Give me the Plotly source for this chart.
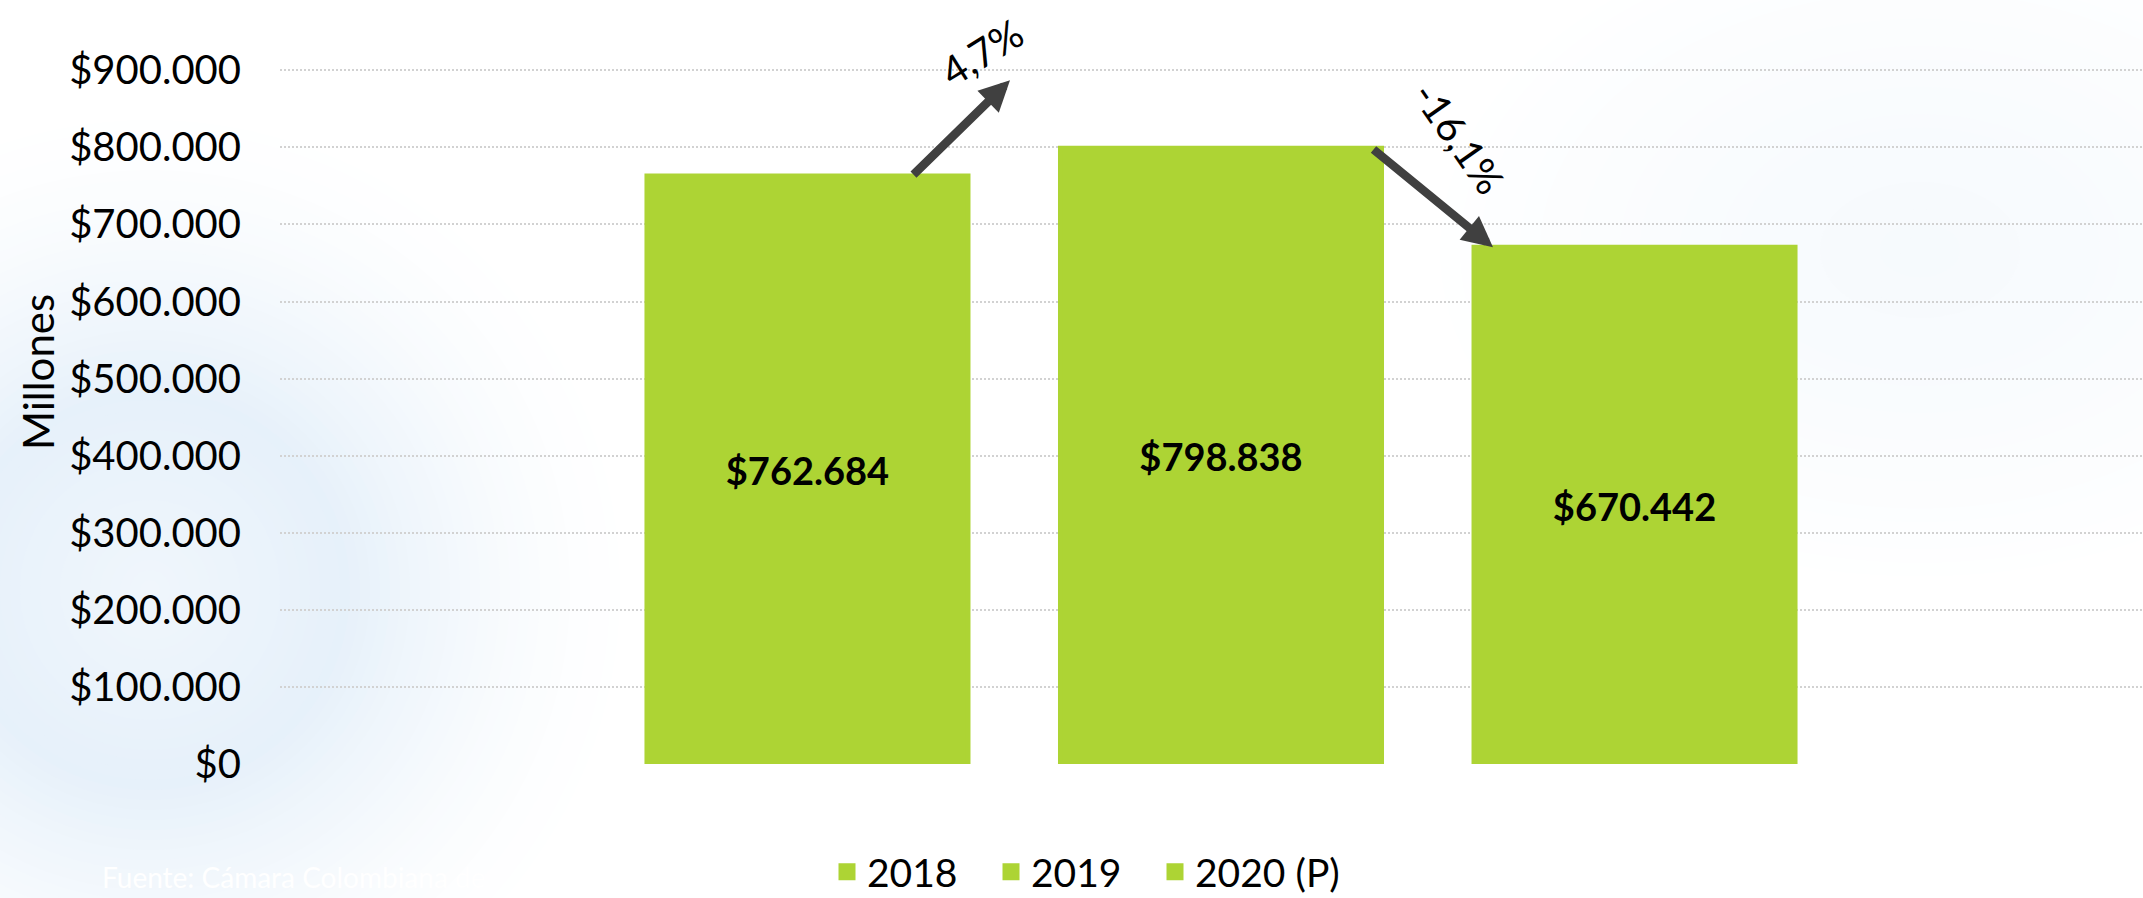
import plotly.graph_objects as go

# ---------------- data ----------------
series_names = ["2018", "2019", "2020 (P)"]
values = [762684, 798838, 670442]
category = ["Total"]
y_ticks = [0, 100000, 200000, 300000, 400000, 500000, 600000, 700000, 800000, 900000]
y_ticktext = ["$0", "$100.000", "$200.000", "$300.000", "$400.000",
              "$500.000", "$600.000", "$700.000", "$800.000", "$900.000"]
axis_title = "Millones"
source_text = "Fuente: Cámara Colombiana de"
bar_color = "#ADD434"

# ---------------- geometry ----------------
W, H = 2143, 898
ML, MR, MT, MB = 280, 0, 0, 134
PW, PH = W - ML - MR, H - MT - MB
XR = [-0.5051, 0.4949]
YR = [0, 100000 * PH / 77.08]


def xd(px):
    return XR[0] + (px - ML) / PW * (XR[1] - XR[0])


def xp(px):
    return (px - ML) / PW


def yp(py):
    return (H - MB - py) / PH


def mix(f, full):
    return "rgb(%d,%d,%d)" % tuple(round(255 * (1 - f) + c * f) for c in full)


def ellipse(cx, cy, rx, ry, color):
    return dict(type="circle", xref="paper", yref="paper",
                xsizemode="pixel", ysizemode="pixel", xanchor=0, yanchor=0,
                x0=cx - ML - rx, x1=cx - ML + rx,
                y0=(H - MB - cy) - ry, y1=(H - MB - cy) + ry,
                fillcolor=color, line=dict(width=0), layer="below")


shapes = []
# faint top-right glow
for r in range(500, 0, -20):
    f = 0.30 * (1 - r / 500) ** 0.8
    shapes.append(ellipse(1920, 250, r, r * 0.68, mix(f, (224, 237, 249))))
# left ring-shaped glow
R, RP = 500, 200
for r in range(R, 0, -10):
    if r >= RP:
        f = (1 - (r - RP) / (R - RP)) ** 1.6
    else:
        f = 0.6 + 0.4 * (r / RP)
    shapes.append(ellipse(150, 590, r, r, mix(0.85 * f, (226, 238, 249))))

fig = go.Figure()
legend_widths = [119, 119, 175]
for name, v, lw in zip(series_names, values, legend_widths):
    fig.add_trace(go.Bar(
        x=category, y=[v], name=name, legendwidth=lw,
        marker=dict(color=bar_color, line=dict(color=bar_color, width=5)),
        texttemplate="$%{y:,d}", textposition="inside", insidetextanchor="middle",
        textangle=0,
        textfont=dict(family="Lato", size=38, color="black", weight="bold"),
        hoverinfo="skip",
    ))

g1 = (values[1] / values[0] - 1) * 100
g2 = (values[2] / values[1] - 1) * 100
pct1 = f"{g1:.1f}".replace(".", ",") + "%"
pct2 = f"{g2:.1f}".replace(".", ",") + "%"

annotations = [
    dict(x=xd(1010), y=887000, ax=xd(912), ay=values[0], xref="x", yref="y",
         axref="x", ayref="y", text="", showarrow=True, arrowhead=2,
         arrowsize=0.72, arrowwidth=8.5, arrowcolor="#404040"),
    dict(x=xd(1493), y=values[2], ax=xd(1372), ay=values[1], xref="x", yref="y",
         axref="x", ayref="y", text="", showarrow=True, arrowhead=2,
         arrowsize=0.72, arrowwidth=8.5, arrowcolor="#404040"),
    dict(x=xp(982), y=yp(52), xref="paper", yref="paper", text=pct1, showarrow=False,
         textangle=-32, font=dict(family="Lato", size=40, color="black"),
         xanchor="center", yanchor="middle"),
    dict(x=xp(1459), y=yp(138), xref="paper", yref="paper", text=pct2, showarrow=False,
         textangle=55, font=dict(family="Lato", size=40, color="black"),
         xanchor="center", yanchor="middle"),
    dict(x=xp(38), y=yp(372), xref="paper", yref="paper", text=axis_title, showarrow=False,
         textangle=-90, font=dict(family="Lato", size=42, color="black"),
         xanchor="center", yanchor="middle"),
    dict(x=xp(100), y=yp(858), xref="paper", yref="paper", text=source_text, showarrow=False,
         font=dict(family="Lato", size=28, color="white"),
         xanchor="left", yanchor="top"),
]

fig.update_layout(
    width=W, height=H, autosize=False,
    margin=dict(l=ML, r=MR, t=MT, b=MB, pad=0, autoexpand=False),
    paper_bgcolor="white", plot_bgcolor="rgba(0,0,0,0)",
    barmode="group", bargap=0.3341, bargroupgap=0.2237,
    separators=",.",
    font=dict(family="Lato", size=40, color="black"),
    showlegend=True,
    legend=dict(orientation="h", x=xp(827), y=yp(840), xanchor="left", yanchor="top",
                font=dict(family="Lato", size=39, color="black"),
                bgcolor="rgba(0,0,0,0)", entrywidthmode="pixels",
                traceorder="normal"),
    shapes=shapes,
    annotations=annotations,
    xaxis=dict(type="category", range=XR, showticklabels=False, showgrid=False,
               zeroline=False, showline=False, ticks=""),
    yaxis=dict(range=YR, tickmode="array", tickvals=y_ticks, ticktext=y_ticktext,
               showgrid=True, gridcolor="#d2d2d2", gridwidth=2, griddash="2px,2px",
               zeroline=False, showline=False, ticks="", ticklabelstandoff=38,
               tickfont=dict(family="Lato", size=40, color="black")),
)

fig.write_html("out.html", config={"displayModeBar": False},
               post_script="document.body.style.margin='0';")
